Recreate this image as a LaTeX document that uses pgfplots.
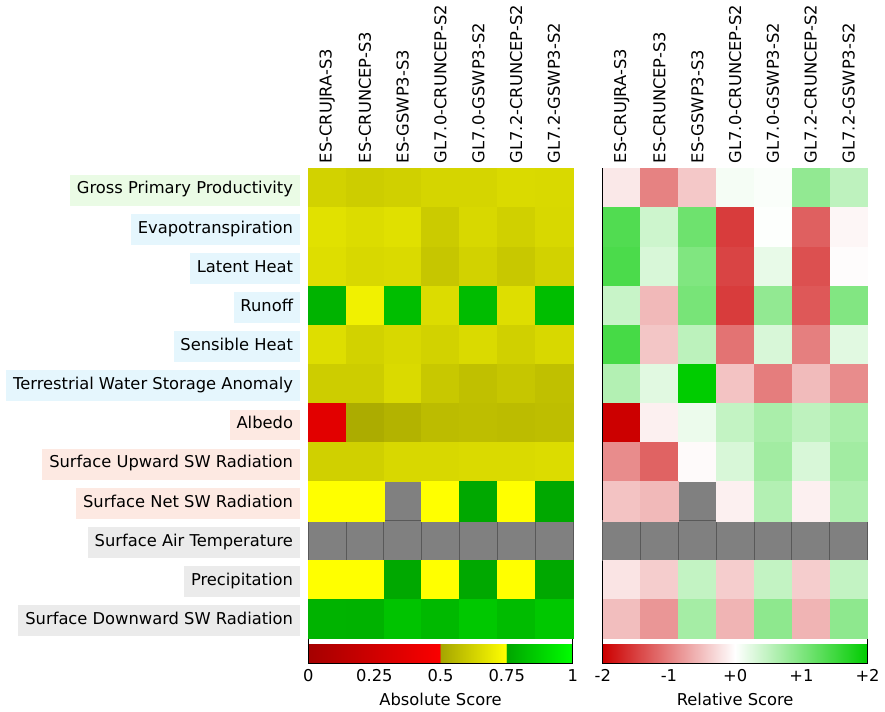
\documentclass[border=0pt]{standalone}
\usepackage{pgfplots}
\usepackage{pgfplotstable}
\pgfplotsset{compat=1.18}
\usepackage{fontspec}
\setmainfont{DejaVu Sans}[Scale=1.18]
\definecolor{lgrn}{RGB}{234,251,229}
\definecolor{lblu}{RGB}{229,246,253}
\definecolor{lred}{RGB}{253,233,226}
\definecolor{lgry}{RGB}{235,235,235}
\newcommand{\lab}[2]{{\setlength{\fboxsep}{0pt}\colorbox{#1}{\rule[-8.4pt]{0pt}{22.3pt}\hspace{5pt}#2\hspace{5pt}}}}
\pgfdeclareplotmark{heatcell}{\pgfpathrectangle{\pgfqpoint{-13.68pt}{-14.16pt}}{\pgfqpoint{27.36pt}{28.32pt}}\pgfusepathqfillstroke}
% absolute scores: x (model) y (variable row) v
\pgfplotstableread[row sep=\\]{
x y v\\
0 0 0.625\\ 1 0 0.610\\ 2 0 0.620\\ 3 0 0.633\\ 4 0 0.633\\ 5 0 0.647\\ 6 0 0.645\\
0 1 0.667\\ 1 1 0.653\\ 2 1 0.664\\ 3 1 0.605\\ 4 1 0.640\\ 5 1 0.620\\ 6 1 0.640\\
0 2 0.658\\ 1 2 0.640\\ 2 2 0.647\\ 3 2 0.590\\ 4 2 0.625\\ 5 2 0.597\\ 6 2 0.625\\
0 3 0.790\\ 1 3 0.710\\ 2 3 0.820\\ 3 3 0.653\\ 4 3 0.814\\ 5 3 0.658\\ 6 3 0.820\\
0 4 0.658\\ 1 4 0.625\\ 2 4 0.640\\ 3 4 0.625\\ 4 4 0.647\\ 5 4 0.620\\ 6 4 0.640\\
0 5 0.610\\ 1 5 0.610\\ 2 5 0.647\\ 3 5 0.597\\ 4 5 0.575\\ 5 5 0.590\\ 6 5 0.575\\
0 6 0.360\\ 1 6 0.520\\ 2 6 0.540\\ 3 6 0.565\\ 4 6 0.570\\ 5 6 0.565\\ 6 6 0.570\\
0 7 0.620\\ 1 7 0.620\\ 2 7 0.640\\ 3 7 0.640\\ 4 7 0.647\\ 5 7 0.647\\ 6 7 0.653\\
0 8 0.749\\ 1 8 0.749\\ 3 8 0.749\\ 4 8 0.758\\ 5 8 0.749\\ 6 8 0.758\\
0 10 0.749\\ 1 10 0.749\\ 2 10 0.758\\ 3 10 0.749\\ 4 10 0.758\\ 5 10 0.749\\ 6 10 0.758\\
0 11 0.790\\ 1 11 0.786\\ 2 11 0.833\\ 3 11 0.806\\ 4 11 0.847\\ 5 11 0.814\\ 6 11 0.847\\
}\abstab
% relative scores
\pgfplotstableread[row sep=\\]{
x y v\\
0 0 -0.18\\ 1 0 -0.98\\ 2 0 -0.43\\ 3 0 0.08\\ 4 0 0.04\\ 5 0 0.86\\ 6 0 0.51\\
0 1 1.37\\ 1 1 0.39\\ 2 1 1.14\\ 3 1 -1.53\\ 4 1 0.02\\ 5 1 -1.25\\ 6 1 -0.07\\
0 2 1.41\\ 1 2 0.31\\ 2 2 1.00\\ 3 2 -1.47\\ 4 2 0.18\\ 5 2 -1.37\\ 6 2 -0.02\\
0 3 0.43\\ 1 3 -0.55\\ 2 3 1.06\\ 3 3 -1.53\\ 4 3 0.86\\ 5 3 -1.31\\ 6 3 0.98\\
0 4 1.45\\ 1 4 -0.45\\ 2 4 0.53\\ 3 4 -1.10\\ 4 4 0.31\\ 5 4 -1.00\\ 6 4 0.24\\
0 5 0.60\\ 1 5 0.24\\ 2 5 2.00\\ 3 5 -0.47\\ 4 5 -1.02\\ 5 5 -0.53\\ 6 5 -0.90\\
0 6 -2.00\\ 1 6 -0.12\\ 2 6 0.15\\ 3 6 0.47\\ 4 6 0.67\\ 5 6 0.51\\ 6 6 0.67\\
0 7 -0.90\\ 1 7 -1.22\\ 2 7 -0.04\\ 3 7 0.31\\ 4 7 0.73\\ 5 7 0.31\\ 6 7 0.73\\
0 8 -0.47\\ 1 8 -0.55\\ 3 8 -0.12\\ 4 8 0.60\\ 5 8 -0.12\\ 6 8 0.63\\
0 10 -0.21\\ 1 10 -0.39\\ 2 10 0.47\\ 3 10 -0.39\\ 4 10 0.47\\ 5 10 -0.39\\ 6 10 0.47\\
0 11 -0.51\\ 1 11 -0.82\\ 2 11 0.71\\ 3 11 -0.59\\ 4 11 0.89\\ 5 11 -0.59\\ 6 11 0.89\\
}\reltab
% missing cells
\pgfplotstableread[row sep=\\]{
x y\\
2 8\\
}\nanone
\pgfplotstableread[row sep=\\]{
x y\\
0 9\\ 1 9\\ 2 9\\ 3 9\\ 4 9\\ 5 9\\ 6 9\\
}\nanrow
\pgfplotsset{
  myGeom/.style={scale only axis, width=191.5pt, height=339.8pt,
    xmin=-0.5, xmax=6.5, ymin=-0.5, ymax=11.5, y dir=reverse},
  myHeat/.style={myGeom,
    xtick={0,...,6},
    xticklabels={ES-CRUJRA-S3,ES-CRUNCEP-S3,ES-GSWP3-S3,GL7.0-CRUNCEP-S2,GL7.0-GSWP3-S2,GL7.2-CRUNCEP-S2,GL7.2-GSWP3-S2},
    xticklabel pos=upper,
    xticklabel style={rotate=90, anchor=west, inner xsep=3.6pt, inner ysep=0pt},
    major tick length=0pt, axis on top,
    axis line style={line width=0.8pt},
  },
  myCB/.style={myGeom, xtick=\empty, ytick=\empty,
    axis line style={line width=0.8pt},
    colorbar horizontal,
    colorbar style={
      at={(0,0)}, anchor=north west, yshift=-7pt,
      scale only axis, width=191.5pt, height=18.5pt,
      major tick length=0pt, xticklabel pos=lower,
      axis line style={line width=0.8pt},
    },
  },
  myCells/.style={scatter, only marks, mark=heatcell, point meta=explicit,
    scatter/use mapped color={draw=mapped color, fill=mapped color},
    mark options={line width=0.3pt}},
  myNanA/.style={only marks, mark=heatcell, mark options={fill=gray, draw=gray, line width=0.3pt}},
  myNanB/.style={only marks, mark=heatcell, mark options={fill=gray, draw=black!65, line width=0.6pt}},
  myAbs/.style={colormap={absc}{rgb255(0cm)=(165,0,0) rgb255(4.99cm)=(250,0,0) rgb255(5cm)=(165,165,0) rgb255(7.49cm)=(255,255,0) rgb255(7.5cm)=(0,165,0) rgb255(10cm)=(0,255,0)},
    point meta min=0, point meta max=1},
  myRel/.style={colormap={relc}{rgb255=(204,0,0) rgb255=(255,255,255) rgb255=(0,204,0)},
    point meta min=-2, point meta max=2},
}
\begin{document}
\begin{tikzpicture}
% colour bars
\begin{axis}[myCB, myAbs, at={(0,0)}, anchor=south west,
  colorbar style={xtick={0,0.25,0.5,0.75,1}, xticklabels={0,0.25,0.5,0.75,1}, xlabel={Absolute Score}}]
\end{axis}
\begin{axis}[myCB, myRel, at={(213.1pt,0)}, anchor=south west,
  colorbar style={xtick={-2,-1,0,1,2}, xticklabels={-2,-1,+0,+1,+2}, xlabel={Relative Score}}]
\end{axis}
% heat maps
\begin{axis}[myHeat, myAbs, at={(0,0)}, anchor=south west,
  ytick={0,...,11},
  yticklabels={\lab{lgrn}{Gross Primary Productivity},\lab{lblu}{Evapotranspiration},\lab{lblu}{Latent Heat},\lab{lblu}{Runoff},\lab{lblu}{Sensible Heat},\lab{lblu}{Terrestrial Water Storage Anomaly},\lab{lred}{Albedo},\lab{lred}{Surface Upward SW Radiation},\lab{lred}{Surface Net SW Radiation},\lab{lgry}{Surface Air Temperature},\lab{lgry}{Precipitation},\lab{lgry}{Surface Downward SW Radiation}},
  yticklabel style={inner sep=0pt, xshift=-5.8pt, yshift=-1.5pt},
]
\addplot[myNanA] table[x=x, y=y] {\nanone};
\addplot[myNanB] table[x=x, y=y] {\nanrow};
\addplot[myCells] table[x=x, y=y, meta=v] {\abstab};
\end{axis}
\begin{axis}[myHeat, myRel, at={(213.1pt,0)}, anchor=south west, ytick=\empty]
\addplot[myNanA] table[x=x, y=y] {\nanone};
\addplot[myNanB] table[x=x, y=y] {\nanrow};
\addplot[myCells] table[x=x, y=y, meta=v] {\reltab};
\end{axis}
\path ([xshift=-4.5pt]current bounding box.west);
\end{tikzpicture}
\end{document}
